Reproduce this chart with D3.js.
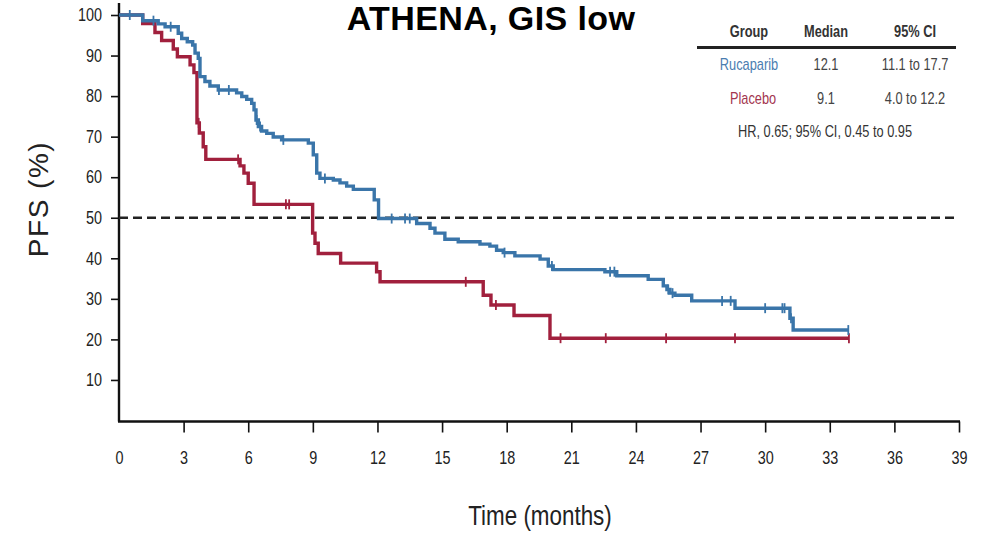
<!DOCTYPE html>
<html>
<head>
<meta charset="utf-8">
<script src="https://cdn.jsdelivr.net/npm/d3@7"></script>
<style>
  html, body { margin: 0; padding: 0; background: #fff; }
  svg { display: block; font-family: "Liberation Sans", Arial, sans-serif; }
</style>
</head>
<body>
<svg id="chart" width="987" height="536"></svg>
<script>
// Kaplan–Meier step points (months, PFS %) for each arm
const rucaTime = [0, 1.10, 1.82, 2.14, 2.75, 2.91, 3.17, 3.42, 3.53, 3.68, 3.76, 3.99, 4.22, 4.61,
  5.46, 5.70, 5.93, 6.16, 6.27, 6.36, 6.47, 6.62, 6.86, 7.16, 7.55, 8.79, 9.02, 9.18, 9.33,
  9.95, 10.26, 10.57, 10.88, 11.85, 12.05, 13.82, 14.44, 14.67, 15.13, 15.75, 16.76, 17.22,
  17.53, 17.84, 18.38, 19.55, 19.93, 20.16, 22.56, 23.11, 24.57, 25.27, 25.44, 25.58, 25.81,
  26.59, 28.60, 31.15, 31.30, 33.86];
const rucaSurv = [100, 98.6, 97.8, 97.1, 95.5, 94.2, 93.4, 92.6, 90.6, 89.3, 84.8, 83.6, 82.5, 81.5,
  80.8, 79.9, 79.2, 78.2, 76.6, 74.1, 72.5, 71.4, 70.8, 69.9, 69.2, 68.4, 65.5, 61.0, 59.7,
  59.3, 58.6, 57.8, 57.0, 54.4, 49.8, 48.6, 47.4, 46.2, 44.7, 44.1, 43.5, 43.0,
  42.0, 41.4, 40.6, 39.8, 38.1, 37.2, 36.7, 35.7, 34.8, 33.2, 32.3, 31.4, 30.9,
  29.5, 27.7, 25.2, 22.3, 22.3];
const rucaCensor = [0.5, 1.6, 2.4, 4.64, 5.1, 6.39, 6.55, 7.63, 9.56, 12.66, 13.28, 13.5, 17.9,
  20.1, 22.8, 23.0, 25.5, 25.7, 28.0, 28.4, 30.0, 30.8, 30.9, 31.2, 33.86];

const placTime = [0, 1.10, 1.67, 1.98, 2.52, 2.71, 3.30, 3.48, 3.62, 3.73, 3.91, 4.03, 5.62, 5.80,
  6.00, 6.27, 8.99, 9.10, 9.25, 10.29, 11.96, 12.12, 16.91, 17.27, 18.34, 20.01, 33.89];
const placSurv = [100, 97.9, 95.7, 93.7, 91.6, 89.7, 87.7, 85.8, 73.4, 70.9, 67.5, 64.4, 62.8, 61.0,
  58.5, 53.3, 46.2, 43.7, 41.2, 38.8, 36.7, 34.2, 30.9, 28.5, 25.9, 20.3, 20.3];
const placCensor = [3.7, 5.53, 7.75, 7.9, 16.1, 17.5, 20.5, 22.6, 25.4, 28.6, 33.89];

const xTicks = d3.range(0, 40, 3);
const yTicks = [10, 20, 30, 40, 50, 60, 70, 80, 90, 100];

const legendHeader = ["Group", "Median", "95% CI"];
const legendGroups = ["Rucaparib", "Placebo"];
const legendMedians = ["12.1", "9.1"];
const legendCIs = ["11.1 to 17.7", "4.0 to 12.2"];
const hrText = "HR, 0.65; 95% CI, 0.45 to 0.95";

const BLUE = "#3a75a9";
const RED = "#a1203d";
const NARROW = 0.8;   // horizontal squeeze for the condensed lettering

const svg = d3.select("#chart");
svg.append("rect").attr("width", 987).attr("height", 536).attr("fill", "#fff");

const x = d3.scaleLinear().domain([0, 39]).range([119, 959]);
const y = d3.scaleLinear().domain([0, 100]).range([420.5, 15]);

// Condensed text placed at (px, py)
function narrowText(parent, px, py, str, size, anchor) {
  return parent.append("text")
    .attr("transform", `translate(${px},${py}) scale(${NARROW},1)`)
    .attr("text-anchor", anchor || "middle")
    .attr("font-size", size)
    .text(str);
}

// Axes
const yAxis = svg.append("g")
  .attr("transform", `translate(${x(0)},0)`)
  .call(d3.axisLeft(y).tickValues(yTicks).tickSize(8).tickPadding(8).tickSizeOuter(0));
yAxis.select(".domain").attr("d", `M0,3V${y(0) + 1}`);

const xAxis = svg.append("g")
  .attr("transform", `translate(0,${y(0) + 1})`)
  .call(d3.axisBottom(x).tickValues(xTicks).tickSize(11).tickPadding(19).tickSizeOuter(0));
xAxis.select(".domain").attr("d", `M${x(0) - 1},0H${x(39) + 1}`);

svg.selectAll(".domain").attr("stroke", "#111").attr("stroke-width", 2.4);
svg.selectAll(".tick line").attr("stroke", "#111").attr("stroke-width", 1.6);
svg.selectAll(".tick text")
  .attr("font-family", "Liberation Sans, Arial, sans-serif")
  .attr("font-size", 18)
  .attr("fill", "#222")
  .attr("transform", `scale(${NARROW},1)`);
yAxis.selectAll(".tick text").attr("x", -17 / NARROW);
xAxis.selectAll(".tick").filter(d => d === 0).select("line").remove();

// Axis titles
narrowText(svg, 540, 525, "Time (months)", 28).attr("fill", "#222");

svg.append("text")
  .attr("transform", "translate(48,199) rotate(-90)")
  .attr("text-anchor", "middle")
  .attr("font-size", 28)
  .attr("letter-spacing", 1.5)
  .attr("fill", "#222")
  .text("PFS (%)");

// Title
svg.append("text")
  .attr("x", 491).attr("y", 30)
  .attr("text-anchor", "middle")
  .attr("font-weight", "bold")
  .attr("font-size", 34)
  .attr("letter-spacing", 0.4)
  .attr("fill", "#000")
  .text("ATHENA, GIS low");

// Median reference line
svg.append("line")
  .attr("x1", x(0)).attr("x2", x(39))
  .attr("y1", y(50)).attr("y2", y(50))
  .attr("stroke", "#222").attr("stroke-width", 2.5)
  .attr("stroke-dasharray", "9,5");

// Survival curves
const step = d3.line().x(d => x(d[0])).y(d => y(d[1])).curve(d3.curveStepAfter);

function survAt(times, surv, t) {
  const i = d3.bisectRight(times, t) - 1;
  return surv[Math.max(0, i)];
}

function drawArm(times, surv, censor, color) {
  const pts = times.map((t, i) => [t, surv[i]]);
  svg.append("path")
    .datum(pts)
    .attr("fill", "none")
    .attr("stroke", color)
    .attr("stroke-width", 3.4)
    .attr("stroke-linejoin", "miter")
    .attr("d", step);
  svg.append("g").selectAll("line")
    .data(censor)
    .join("line")
    .attr("x1", d => x(d)).attr("x2", d => x(d))
    .attr("y1", d => y(survAt(times, surv, d)) - 5)
    .attr("y2", d => y(survAt(times, surv, d)) + 5)
    .attr("stroke", color)
    .attr("stroke-width", 1.8);
}

drawArm(placTime, placSurv, placCensor, RED);
drawArm(rucaTime, rucaSurv, rucaCensor, BLUE);

// Summary table
const colX = [749, 826, 915];
const leg = svg.append("g");
legendHeader.forEach((h, i) => {
  narrowText(leg, colX[i], 37, h, 16).attr("fill", "#333").attr("font-weight", "bold");
});

leg.append("line")
  .attr("x1", 697).attr("x2", 956)
  .attr("y1", 47.5).attr("y2", 47.5)
  .attr("stroke", "#222").attr("stroke-width", 3);

const rowY = [70, 104];
const rowColor = ["#4a7db0", "#a3354f"];
legendGroups.forEach((g, r) => {
  narrowText(leg, colX[0] + (r === 1 ? 4 : 0), rowY[r], g, 16).attr("fill", rowColor[r]);
  narrowText(leg, colX[1], rowY[r], legendMedians[r], 16).attr("fill", "#444");
  narrowText(leg, colX[2], rowY[r], legendCIs[r], 16).attr("fill", "#444");
});

narrowText(leg, 825, 137, hrText, 16).attr("fill", "#333");
</script>
</body>
</html>
